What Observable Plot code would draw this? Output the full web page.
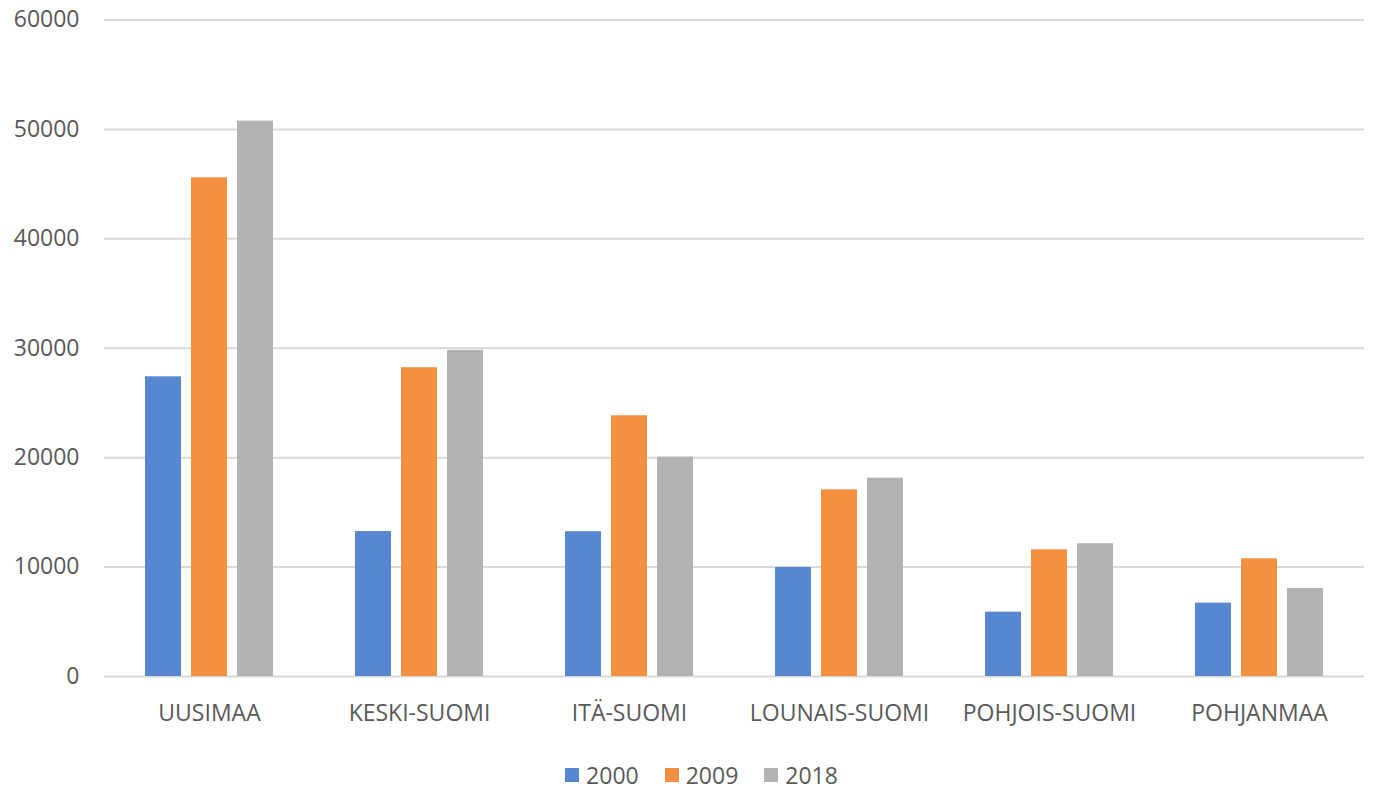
<!DOCTYPE html>
<html>
<head>
<meta charset="utf-8">
<script src="https://cdn.jsdelivr.net/npm/d3@7"></script>
<script src="https://cdn.jsdelivr.net/npm/@observablehq/plot@0.6"></script>
<style>
  body { margin: 0; background: #fff; font-family: "Open Sans", sans-serif; }
  #legend { display: flex; justify-content: center; align-items: center; padding-top: 20px; height: 30px;
            font-size: 23px; color: #595959; padding-left: 30px; }
  .item { display: flex; align-items: center; margin: 0 13px; }
  .sw { width: 14px; height: 14px; margin-right: 7px; }
</style>
</head>
<body>
<div id="chart"></div>
<div id="legend"></div>
<script>
const regions = ["UUSIMAA", "KESKI-SUOMI", "ITÄ-SUOMI", "LOUNAIS-SUOMI", "POHJOIS-SUOMI", "POHJANMAA"];
const years = ["2000", "2009", "2018"];
const v2000 = [27390, 13250, 13230, 9960, 5880, 6700];
const v2009 = [45580, 28220, 23830, 17060, 11580, 10760];
const v2018 = [50760, 29800, 20050, 18130, 12130, 8040];
const colors = ["#5687D0", "#F39140", "#B2B2B2"];
const yTicks = [0, 10000, 20000, 30000, 40000, 50000, 60000];

const series = [v2000, v2009, v2018];
const data = [];
regions.forEach((r, i) => years.forEach((y, j) => data.push({region: r, year: y, value: series[j][i]})));

const chart = Plot.plot({
  width: 1373,
  height: 740,
  marginLeft: 101,
  marginRight: 7,
  marginTop: 19.5,
  marginBottom: 64,
  style: {fontFamily: "Open Sans, sans-serif", fontSize: "23px", color: "#595959", background: "#fff"},
  fx: {domain: regions, padding: 0, label: null, tickSize: 0, tickPadding: 28, axis: "bottom"},
  x: {domain: years, paddingInner: 0.22, paddingOuter: 0.86, axis: null},
  y: {domain: [0, 60000], ticks: yTicks, label: null, tickSize: 0, tickPadding: 25, tickFormat: d => String(d)},
  color: {domain: years, range: colors},
  marks: [
    Plot.ruleY(yTicks, {stroke: "#d9d9d9", strokeWidth: 2}),
    Plot.barY(data, {fx: "region", x: "year", y: "value", fill: "year"})
  ]
});
document.getElementById("chart").appendChild(chart);

const legend = document.getElementById("legend");
years.forEach((y, i) => {
  const it = document.createElement("div");
  it.className = "item";
  const sw = document.createElement("div");
  sw.className = "sw";
  sw.style.background = colors[i];
  const t = document.createElement("span");
  t.textContent = y;
  it.appendChild(sw); it.appendChild(t);
  legend.appendChild(it);
});
</script>
</body>
</html>
